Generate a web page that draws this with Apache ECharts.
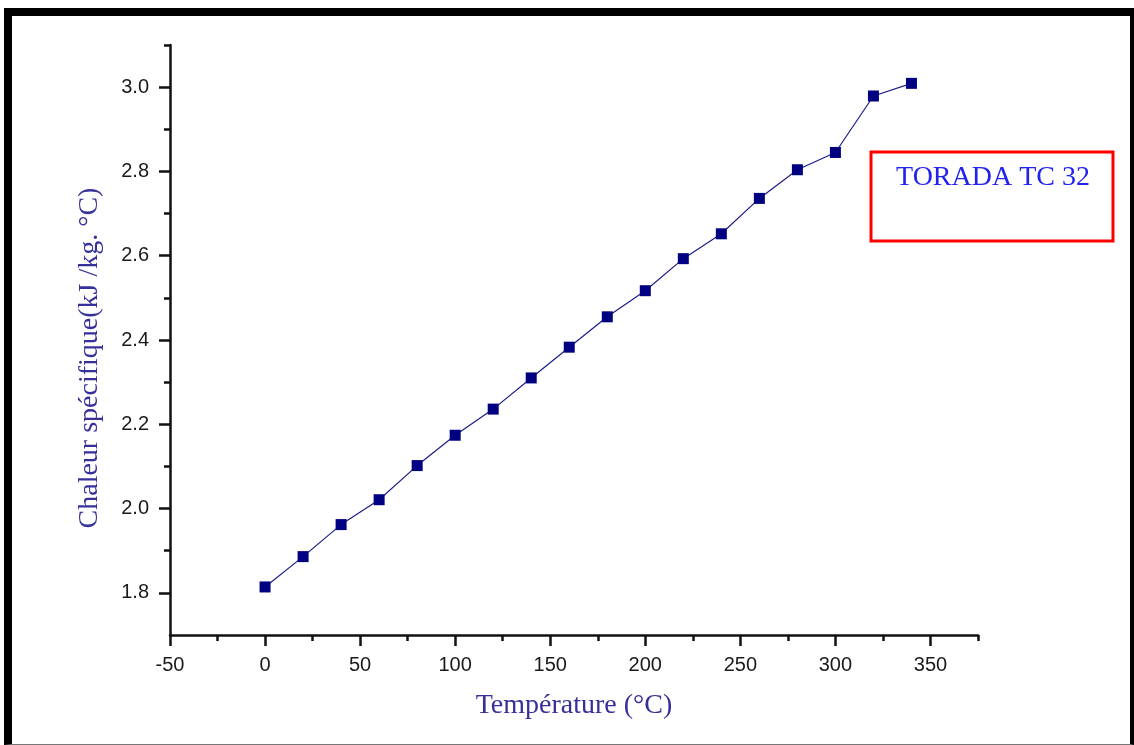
<!DOCTYPE html>
<html>
<head>
<meta charset="utf-8">
<script src="https://cdn.jsdelivr.net/npm/echarts@6/dist/echarts.min.js"></script>
<style>
    html, body { margin: 0; padding: 0; background: #fff; }
    #main { width: 1134px; height: 745px; }
    #frame {
        position: absolute; left: 4px; top: 8px; right: 0; bottom: 0;
        border-left: 8px solid #000; border-top: 8px solid #000;
        border-right: 4px solid #000; border-bottom: 1px solid #777;
        pointer-events: none;
    }
</style>
</head>
<body>
<div id="main"></div>
<div id="frame"></div>
<script>
    // temperature (°C) and specific heat (kJ/kg.°C)
    var temps = [0, 20, 40, 60, 80, 100, 120, 140, 160, 180, 200, 220, 240, 260, 280, 300, 320, 340];
    var chaleur = [1.814, 1.886, 1.962, 2.021, 2.102, 2.174, 2.236, 2.310, 2.383, 2.455, 2.517, 2.593, 2.652, 2.736, 2.804, 2.845, 2.979, 3.009];

    var xMajor = [-50, 0, 50, 100, 150, 200, 250, 300, 350];
    var xMinor = [-25, 25, 75, 125, 175, 225, 275, 325, 375];
    var yMajor = [1.8, 2.0, 2.2, 2.4, 2.6, 2.8, 3.0];
    var yMinor = [1.9, 2.1, 2.3, 2.5, 2.7, 2.9, 3.1];

    var serieData = [];
    for (var i = 0; i < temps.length; i++) {
        serieData.push([temps[i], chaleur[i]]);
    }

    var titleColor = '#35309a';
    var labelStyle = {color: '#1a1a1a', fontFamily: 'Liberation Sans', fontSize: 20};

    var myChart = echarts.init(document.getElementById('main'));
    var option = {
        animation: false,
        grid: {left: 170, right: 156, top: 45, bottom: 110},
        xAxis: [{
            type: 'value', min: -50, max: 375,
            splitLine: {show: false},
            axisLine: {onZero: false, lineStyle: {color: '#111', width: 2.5}},
            axisTick: {customValues: xMajor, length: 11, lineStyle: {color: '#111', width: 2.5}},
            axisLabel: Object.assign({customValues: xMajor, margin: 20}, labelStyle),
            name: 'Température (°C)', nameLocation: 'middle', nameGap: 57,
            nameTextStyle: {color: titleColor, fontFamily: 'Liberation Serif', fontSize: 28}
        }, {
            type: 'value', min: -50, max: 375, position: 'bottom',
            splitLine: {show: false},
            axisLine: {show: false, onZero: false},
            axisTick: {customValues: xMinor, length: 6, lineStyle: {color: '#111', width: 2.5}},
            axisLabel: {show: false}
        }],
        yAxis: [{
            type: 'value', min: 1.7, max: 3.1,
            splitLine: {show: false},
            axisLine: {onZero: false, lineStyle: {color: '#111', width: 2.5}},
            axisTick: {customValues: yMajor, length: 11, lineStyle: {color: '#111', width: 2.5}},
            axisLabel: Object.assign({
                customValues: yMajor, margin: 21,
                formatter: function (v) { return v.toFixed(1); }
            }, labelStyle),
            name: 'Chaleur spécifique(kJ /kg. °C)', nameLocation: 'middle', nameGap: 66,
            nameRotate: 90,
            nameTextStyle: {color: titleColor, fontFamily: 'Liberation Serif', fontSize: 28, padding: [0, 36, 0, 0]}
        }, {
            type: 'value', min: 1.7, max: 3.1, position: 'left',
            splitLine: {show: false},
            axisLine: {show: false, onZero: false},
            axisTick: {customValues: yMinor, length: 6, lineStyle: {color: '#111', width: 2.5}},
            axisLabel: {show: false}
        }],
        series: [{
            type: 'line',
            data: serieData,
            symbol: 'rect',
            symbolSize: 11,
            itemStyle: {color: '#000080'},
            lineStyle: {color: '#1c1c8a', width: 1.2}
        }],
        graphic: [{
            type: 'rect',
            shape: {x: 871, y: 152, width: 242, height: 89},
            style: {fill: 'none', stroke: '#ff0000', lineWidth: 3}
        }, {
            type: 'text',
            x: 993, y: 178,
            style: {
                text: 'TORADA TC 32', fill: '#2222ee',
                font: '28px "Liberation Serif"',
                textAlign: 'center', textVerticalAlign: 'middle'
            }
        }]
    };
    myChart.setOption(option);
</script>
</body>
</html>
